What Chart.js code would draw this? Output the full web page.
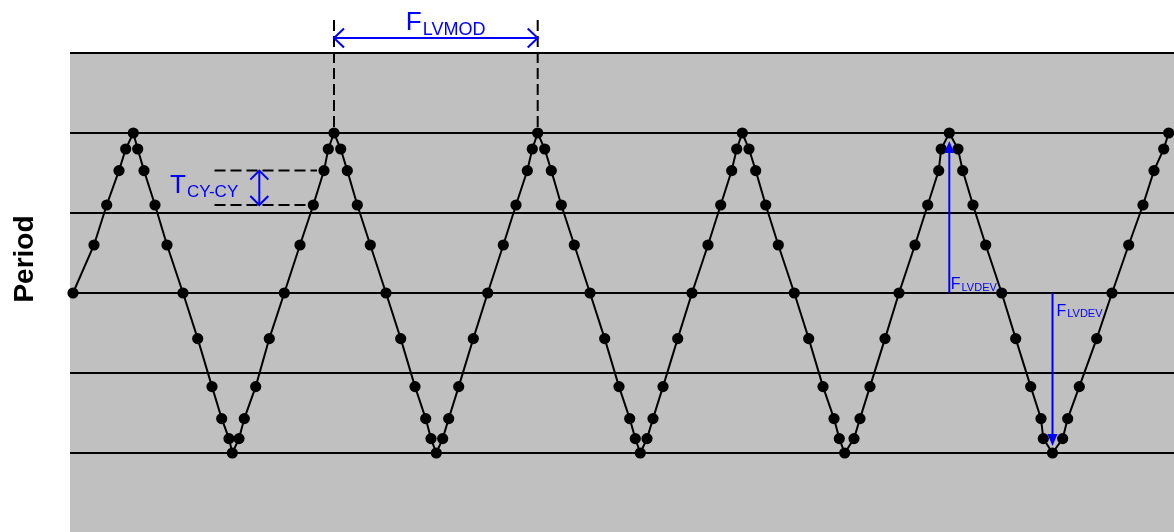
<!DOCTYPE html>
<html>
<head>
<meta charset="utf-8">
<script src="https://cdn.jsdelivr.net/npm/chart.js@4/dist/chart.umd.min.js"></script>
<style>
  html, body { margin: 0; padding: 0; background: #ffffff; }
  canvas { display: block; }
</style>
</head>
<body>
<canvas id="chart" width="1174" height="532"></canvas>
<script>

// sample instants (time axis) of each measured cycle
const sampleTime = [
    3, 24, 36.7, 49, 55.7, 63.3,
    67.7, 74, 85, 97, 113, 127.7, 142, 151.7, 159, 162.3, 169, 174.3, 185.7, 199.3, 214.3, 230, 243.3, 254, 258.3, 264,
    270.7, 277.3, 287.3, 300.3, 316, 330.7, 345, 355.7, 361, 366.3, 372.7, 378.7, 388.7, 403.3, 417.7, 433.3, 446, 457.3, 462.3, 467.7,
    474.7, 481.3, 491.3, 504.3, 520, 534.7, 549, 559.7, 565.3, 570.3, 577, 583, 593, 607.7, 622, 638, 650.7, 661.7, 666.7, 672.3,
    679, 685.7, 695.7, 708.3, 724.3, 738.7, 753, 764, 769.3, 774.7, 784, 790, 800, 815, 829, 845, 857.7, 868.7, 871.2, 879.3,
    888, 892.7, 903, 915.7, 931.7, 945.7, 960.7, 971, 973.3, 982.5, 992.7, 997.7, 1009.3, 1026.7, 1042, 1058.7, 1073, 1084, 1093.7, 1098.7
];

// measured period of each cycle
const period = [
    3.00, 3.60, 4.10, 4.53, 4.80, 5.00,
    4.80, 4.53, 4.10, 3.60, 3.00, 2.43, 1.83, 1.43, 1.18, 1.00, 1.18, 1.43, 1.83, 2.43, 3.00, 3.60, 4.10, 4.53, 4.80, 5.00,
    4.80, 4.53, 4.10, 3.60, 3.00, 2.43, 1.83, 1.43, 1.18, 1.00, 1.18, 1.43, 1.83, 2.43, 3.00, 3.60, 4.10, 4.53, 4.80, 5.00,
    4.80, 4.53, 4.10, 3.60, 3.00, 2.43, 1.83, 1.43, 1.18, 1.00, 1.18, 1.43, 1.83, 2.43, 3.00, 3.60, 4.10, 4.53, 4.80, 5.00,
    4.80, 4.53, 4.10, 3.60, 3.00, 2.43, 1.83, 1.43, 1.18, 1.00, 1.18, 1.43, 1.83, 2.43, 3.00, 3.60, 4.10, 4.53, 4.80, 5.00,
    4.80, 4.53, 4.10, 3.60, 3.00, 2.43, 1.83, 1.43, 1.18, 1.00, 1.18, 1.43, 1.83, 2.43, 3.00, 3.60, 4.10, 4.53, 4.80, 5.00
];

// horizontal reference levels
const gridLevels = [1, 2, 3, 4, 5, 6];

// indices of the samples the annotations hang on
const modPeaks = [25, 45];       // F_LVMOD spans one modulation period
const cycleUpper = 23;           // T_CY-CY step between two consecutive cycles
const cycleLower = 22;
const devPeak = 85;              // F_LVDEV up / down
const devTrough = 95;
const centreLevel = 3;

const BLUE = '#0000ff';
const FONT = '"Liberation Sans", Arial, sans-serif';


// text with a subscript right after it
function subLabel (ctx, main, sub, x, y, mainSize, subSize, drop) {
    ctx.fillStyle = BLUE;
    ctx.textAlign = 'left';
    ctx.textBaseline = 'alphabetic';
    ctx.font = mainSize + 'px ' + FONT;
    ctx.fillText(main, x, y);
    const w = ctx.measureText(main).width;
    ctx.font = subSize + 'px ' + FONT;
    ctx.fillText(sub, x + w + 1, y + drop);
}

function line (ctx, x1, y1, x2, y2, color, width, dash) {
    ctx.save();
    ctx.strokeStyle = color;
    ctx.lineWidth = width;
    ctx.setLineDash(dash || []);
    ctx.beginPath();
    ctx.moveTo(x1, y1);
    ctx.lineTo(x2, y2);
    ctx.stroke();
    ctx.restore();
}

// open chevron head, pointing in direction (dx, dy)
function chevron (ctx, x, y, dx, dy, len, half) {
    const px = -dy, py = dx;
    ctx.save();
    ctx.strokeStyle = BLUE;
    ctx.lineWidth = 2;
    ctx.beginPath();
    ctx.moveTo(x - dx * len + px * half, y - dy * len + py * half);
    ctx.lineTo(x, y);
    ctx.lineTo(x - dx * len - px * half, y - dy * len - py * half);
    ctx.stroke();
    ctx.restore();
}

// filled triangle head, pointing in direction (dx, dy)
function solidHead (ctx, x, y, dx, dy, len, half) {
    const px = -dy, py = dx;
    ctx.save();
    ctx.fillStyle = BLUE;
    ctx.beginPath();
    ctx.moveTo(x, y);
    ctx.lineTo(x - dx * len + px * half, y - dy * len + py * half);
    ctx.lineTo(x - dx * len - px * half, y - dy * len - py * half);
    ctx.closePath();
    ctx.fill();
    ctx.restore();
}

const annotate = {
    id: 'annotate',
    beforeDraw (chart) {
        const { ctx, chartArea } = chart;
        ctx.save();
        ctx.fillStyle = '#c0c0c0';
        ctx.fillRect(chartArea.left, chartArea.top, chartArea.right - chartArea.left, chartArea.bottom - chartArea.top);
        ctx.restore();
    },
    afterDatasetsDraw (chart) {
        const ctx = chart.ctx;
        const xs = chart.scales.x;
        const ys = chart.scales.y;
        const X = i => xs.getPixelForValue(sampleTime[i]);
        const Y = i => ys.getPixelForValue(period[i]);

        // y axis name
        ctx.save();
        ctx.translate(33, 259);
        ctx.rotate(-Math.PI / 2);
        ctx.fillStyle = '#000000';
        ctx.font = 'bold 28px ' + FONT;
        ctx.textAlign = 'center';
        ctx.textBaseline = 'alphabetic';
        ctx.fillText('Period', 0, 0);
        ctx.restore();

        // modulation period: dashed markers at two peaks and a double arrow above
        const a = X(modPeaks[0]), b = X(modPeaks[1]);
        const top = 20, arrowY = 38;
        line(ctx, a, top, a, Y(modPeaks[0]), '#000000', 2, [11, 5]);
        line(ctx, b, top, b, Y(modPeaks[1]), '#000000', 2, [11, 5]);
        line(ctx, a, arrowY, b, arrowY, BLUE, 2);
        chevron(ctx, a, arrowY, -1, 0, 10, 9.5);
        chevron(ctx, b, arrowY, 1, 0, 10, 9.5);
        subLabel(ctx, 'F', 'LVMOD', (a + b) / 2 - 30, 29.5, 26, 18, 5);

        // cycle to cycle step
        const yu = Y(cycleUpper), yl = Y(cycleLower);
        const x0 = xs.getPixelForValue(144.5);
        line(ctx, x0, yu, X(cycleUpper) - 7, yu, '#000000', 2, [11, 5]);
        line(ctx, x0, yl, X(cycleLower) - 7, yl, '#000000', 2, [11, 5]);
        const ax = xs.getPixelForValue(189.3);
        line(ctx, ax, yu, ax, yl, BLUE, 2);
        chevron(ctx, ax, yu, 0, -1, 9, 9);
        chevron(ctx, ax, yl, 0, 1, 9, 9);
        subLabel(ctx, 'T', 'CY-CY', 170, 192.5, 26, 17, 4.5);

        // deviation from the centre level, up to a peak and down to a trough
        const yc = ys.getPixelForValue(centreLevel);
        const ux = X(devPeak), uTip = Y(devPeak) + 8;
        line(ctx, ux, yc, ux, uTip + 6, BLUE, 2);
        solidHead(ctx, ux, uTip, 0, -1, 12, 5);
        subLabel(ctx, 'F', 'LVDEV', ux + 1.5, 288.5, 16, 11, 2);

        const dx = X(devTrough), dTip = Y(devTrough) - 7;
        line(ctx, dx, yc, dx, dTip - 6, BLUE, 2);
        solidHead(ctx, dx, dTip, 0, 1, 12, 5);
        subLabel(ctx, 'F', 'LVDEV', dx + 4, 316, 16, 11, 1);
    }
};

new Chart(document.getElementById('chart'), {
    type: 'line',
    data: {
        datasets: [{
            data: sampleTime.map((t, i) => ({ x: t, y: period[i] })),
            borderColor: '#000000',
            borderWidth: 2,
            backgroundColor: '#000000',
            pointBackgroundColor: '#000000',
            pointBorderWidth: 0,
            pointRadius: 5.6,
            tension: 0,
            clip: false
        }]
    },
    options: {
        responsive: false,
        animation: false,
        devicePixelRatio: 1,
        layout: { autoPadding: false, padding: { left: 70, top: 53, right: 0, bottom: 0 } },
        plugins: { legend: { display: false }, tooltip: { enabled: false } },
        scales: {
            x: { type: 'linear', min: 0, max: 1104, display: false },
            y: {
                type: 'linear',
                min: 0.0125,
                max: 6,
                afterBuildTicks: scale => { scale.ticks = gridLevels.map(v => ({ value: v })); },
                ticks: { display: false },
                border: { display: false },
                grid: { color: '#000000', lineWidth: 2, drawTicks: false }
            }
        }
    },
    plugins: [annotate]
});
</script>
</body>
</html>
